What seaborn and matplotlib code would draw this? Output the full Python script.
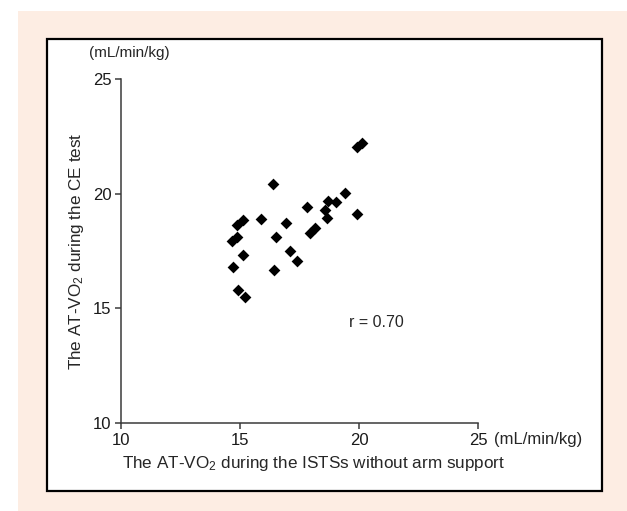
import matplotlib
matplotlib.use("Agg")
import matplotlib.pyplot as plt
import matplotlib.patches as patches
import seaborn as sns
import pandas as pd

# AT-VO2 during ISTSs without arm support (x) vs during CE test (y), mL/min/kg
ists_vo2 = [19.90, 20.14, 16.40, 19.41, 17.80, 18.68, 19.02, 18.57, 18.64, 19.90,
            17.94, 18.15, 15.14, 14.86, 14.86, 14.65, 15.88, 16.51, 15.14, 16.92,
            14.72, 16.44, 17.10, 17.38, 14.90, 15.21]
ce_vo2 = [22.02, 22.22, 20.41, 20.02, 19.41, 19.68, 19.65, 19.29, 18.93, 19.10,
          18.27, 18.52, 18.85, 18.63, 18.12, 17.94, 18.90, 18.10, 17.33, 18.71,
          16.82, 16.67, 17.50, 17.08, 15.80, 15.48]
ticks = [10, 15, 20, 25]
r_text = "r = 0.70"

df = pd.DataFrame({"ists": ists_vo2, "ce": ce_vo2})

sns.set_style("ticks")
plt.rcParams["font.family"] = ["Liberation Sans", "DejaVu Sans"]
plt.rcParams["mathtext.fontset"] = "custom"
plt.rcParams["mathtext.rm"] = "Liberation Sans"
plt.rcParams["mathtext.it"] = "Liberation Sans"

W, H = 627, 511
fig = plt.figure(figsize=(W / 100, H / 100), dpi=100)
fig.patch.set_facecolor("white")

# peach background and framed white panel
fig.patches.append(patches.Rectangle((18 / W, 0), 1 - 18 / W, (H - 11) / H,
                                     transform=fig.transFigure, facecolor="#fdede3",
                                     edgecolor="none", zorder=0))
fig.patches.append(patches.Rectangle((47 / W, (H - 491) / H), 555 / W, 452 / H,
                                     transform=fig.transFigure, facecolor="white",
                                     edgecolor="black", linewidth=1.6, zorder=1))

ax = fig.add_axes([121 / W, (H - 423) / H, (478 - 121) / W, (423 - 79) / H])
ax.set_zorder(3)
ax.set_facecolor("none")
sns.scatterplot(data=df, x="ists", y="ce", marker="D", color="black", s=36,
                edgecolor="black", linewidth=0, ax=ax)

ax.set_xlim(10, 25)
ax.set_ylim(10, 25)
ax.set_xticks(ticks)
ax.set_yticks(ticks)
ax.set_xlabel("")
ax.set_ylabel(r"The AT-VO$_2$ during the CE test", fontsize=12.3, labelpad=5)
sns.despine(ax=ax)
for s in ["left", "bottom"]:
    ax.spines[s].set_color("#3a3a3a")
    ax.spines[s].set_linewidth(1.1)
ax.tick_params(length=4.5, width=1.1, color="#3a3a3a", labelsize=12, pad=2.5,
               labelcolor="#1a1a1a")

ax.text(19.6, 14.4, r_text, fontsize=11.5, va="center", ha="left")
fig.text(494 / W, 1 - 439 / H, "(mL/min/kg)", fontsize=12, va="center", ha="left")
fig.text(89 / W, 1 - 53 / H, "(mL/min/kg)", fontsize=11, va="center", ha="left")
fig.text(122 / W, 1 - 463 / H, r"The AT-VO$_2$ during the ISTSs without arm support",
         fontsize=12.3, va="center", ha="left")

fig.savefig("out.png", dpi=100)
